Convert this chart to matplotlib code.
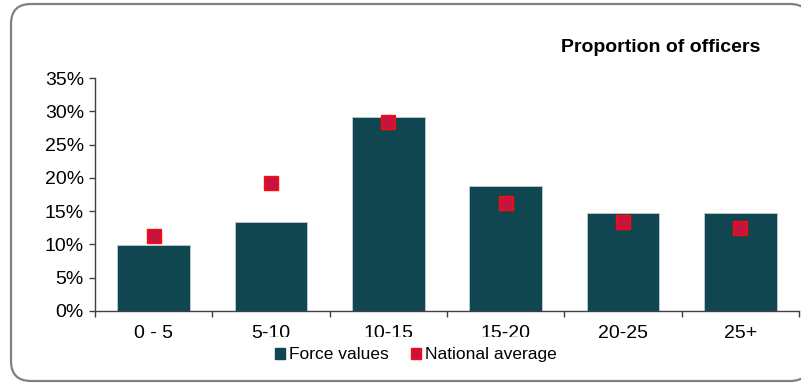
import matplotlib
matplotlib.use("Agg")
import matplotlib.pyplot as plt
from matplotlib.patches import FancyBboxPatch, Patch
from matplotlib.ticker import FixedLocator, PercentFormatter

plt.rcParams['font.family'] = ['Liberation Sans', 'DejaVu Sans']

# data
categories = ["0 - 5", "5-10", "10-15", "15-20", "20-25", "25+"]
force_values = [9.9, 13.4, 29.2, 18.8, 14.7, 14.7]
national_average = [11.2, 19.3, 28.4, 16.3, 13.4, 12.4]

bar_color = "#0F4650"
marker_face = "#C8143C"
marker_edge = "#FF0A0A"
axis_color = "#404040"

fig = plt.figure(figsize=(8.01, 3.83), dpi=100)
ax = fig.add_axes([0.1186, 0.188, 0.8789, 0.608])

x = list(range(len(categories)))
ax.bar(x, force_values, width=0.62, color=bar_color, edgecolor="#b8c8cc",
       linewidth=0.7, zorder=2)
ax.plot(x, national_average, linestyle="none", marker="s", markersize=9.5,
        markerfacecolor=marker_face, markeredgecolor=marker_edge,
        markeredgewidth=1.0, zorder=3)

ax.set_xlim(-0.5, len(categories) - 0.5)
ax.set_ylim(0, 35)
ax.set_yticks(range(0, 36, 5))
ax.yaxis.set_major_formatter(PercentFormatter(decimals=0))

# boundaries get the tick marks, centres get the labels
ax.xaxis.set_major_locator(FixedLocator([i - 0.5 for i in range(len(categories) + 1)]))
ax.xaxis.set_major_formatter(plt.NullFormatter())
ax.xaxis.set_minor_locator(FixedLocator(x))
ax.set_xticklabels(categories, minor=True)
ax.tick_params(axis="x", which="minor", length=0, pad=10, labelsize=14)
ax.tick_params(axis="x", which="major", direction="out", length=4,
               color=axis_color, width=1)
ax.tick_params(axis="y", direction="out", length=4, color=axis_color,
               width=1, pad=4, labelsize=14)

for side in ["top", "right"]:
    ax.spines[side].set_visible(False)
for side in ["left", "bottom"]:
    ax.spines[side].set_color(axis_color)
    ax.spines[side].set_linewidth(1)

fig.text(0.825, 0.875, "Proportion of officers", ha="center", va="center",
         fontsize=14, fontweight="bold")

handles = [Patch(facecolor=bar_color, edgecolor=bar_color),
           Patch(facecolor=marker_face, edgecolor=marker_edge)]
leg = fig.legend(handles, ["Force values", "National average"], loc="center",
                 bbox_to_anchor=(0.519, 0.074), ncol=2, frameon=True,
                 fontsize=12.5, handlelength=0.6, handleheight=0.6,
                 handletextpad=0.2, columnspacing=1.3, borderpad=0.6)
leg.get_frame().set_facecolor("white")
leg.get_frame().set_edgecolor("none")
leg.get_frame().set_alpha(1)

# rounded grey border around the chart area, running just off the right edge
# (white fill, drawn under the axes)
border = FancyBboxPatch((0.11, 0.02), 7.99, 3.77,
                        boxstyle="round,pad=0,rounding_size=0.2",
                        transform=fig.dpi_scale_trans, facecolor="white",
                        edgecolor="#808080", linewidth=1.6, zorder=-1)
fig.patches.append(border)

fig.savefig("out.png", dpi=100)
